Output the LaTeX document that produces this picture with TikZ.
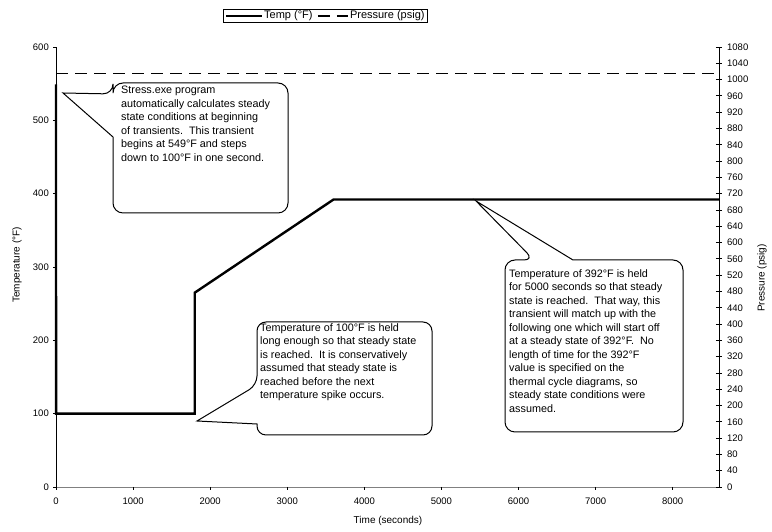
\documentclass[tikz,border=0pt]{standalone}
\usepackage{fontspec}
\setmainfont{Liberation Sans}
\usetikzlibrary{positioning,fit}

\begin{document}
\begin{tikzpicture}[x=1pt, y=1pt]
    \tikzset{
        axisline/.style={black, line width=0.8pt},
        templine/.style={black, line width=2.4pt},
        pressline/.style={black, line width=1.3pt, dash pattern=on 12pt off 7pt},
        ticktext/.style={font=\fontsize{9.5}{10}\selectfont, inner sep=0pt},
        titletext/.style={font=\fontsize{10}{11}\selectfont, inner sep=0pt},
        legendtext/.style={font=\fontsize{11}{12}\selectfont, inner sep=0pt},
        calloutbox/.style={draw=black, line width=1pt, fill=white},
        callouttext/.style={font=\fontsize{10.8}{13.5}\selectfont, align=left, anchor=north west, inner sep=0pt}
    }
    \useasboundingbox (0,0) rectangle (772,532);

    % --- 1. AXES ---
    \begin{scope}[shift={(56,45)}, x=0.07709pt, y=0.73333pt]
        \draw[axisline, gray] (0,0) -- (8600,0);
        \draw[axisline] (0,0) -- (0,600);
        \draw[axisline] (8600,0) -- (8600,600);

        % Temperature (gauche)
        \foreach \t in {0,100,...,600} {
            \draw[axisline] (0,\t) -- ++(-3pt,0pt);
            \node[ticktext, anchor=east] at ([xshift=-7pt]0,\t) {\t};
        }
        % Pressure (droite)
        \foreach \p in {0,40,...,1080} {
            \draw[axisline] ([xshift=-3pt]8600,{\p*5/9}) -- ++(6pt,0pt);
            \node[ticktext, anchor=west] at ([xshift=8pt]8600,{\p*5/9}) {\p};
        }
        % Time
        \foreach \s in {0,1000,...,8000} {
            \draw[axisline] (\s,0) -- ++(0pt,-3pt);
            \node[ticktext, anchor=north] at ([yshift=-11pt]\s,0) {\s};
        }

        % --- 2. DATA ---
        \draw[pressline] (0,{1015*5/9}) -- (8600,{1015*5/9});
        \draw[templine] (0,549) -- (1,100) -- (1800,100) -- (1800,265) -- (3600,392) -- (8600,392);
    \end{scope}

    \node[titletext, rotate=90] (ytitle) at (17,267) {Temperature (°F)};
    \node[titletext, rotate=90] (y2title) at (762,254) {Pressure (psig)};
    \node[titletext] (xtitle) at (388,11) {Time (seconds)};

    % --- 3. CALLOUTS ---
    \draw[calloutbox] (113,395) [rounded corners=10pt] -- (113,319) -- (288,319) -- (288,449) -- (113,449) -- (113,438) [sharp corners] -- (63,439) -- cycle;
    \node[callouttext] (note1) at (121,446) {Stress.exe program\\automatically calculates steady\\state conditions at beginning\\of transients.\ \ This transient\\begins at 549°F and steps\\down to 100°F in one second.};

    \draw[calloutbox] (257,108) [rounded corners=9pt] -- (257,97) -- (432,97) -- (432,210) -- (257,210) -- (257,147) [sharp corners] -- (197,111) -- cycle;
    \node[callouttext] (note2) at (260,209) {Temperature of 100°F is held\\long enough so that steady state\\is reached.\ \ It is conservatively\\assumed that steady state is\\reached before the next\\temperature spike occurs.};

    \draw[calloutbox] (573,272) [rounded corners=10pt] -- (683,272) -- (683,100) -- (505,100) -- (505,272) -- (534,272) [sharp corners] -- (476,331) -- cycle;
    \node[callouttext] (note3) at (509,263) {Temperature of 392°F is held\\for 5000 seconds so that steady\\state is reached.\ \ That way, this\\transient will match up with the\\following one which will start off\\at a steady state of 392°F.\ \ No\\length of time for the 392°F\\value is specified on the\\thermal cycle diagrams, so\\steady state conditions were\\assumed.};

    % --- 4. LEGENDE ---
    \coordinate (lg0) at (226,516);
    \coordinate (lg1) at (262,516);
    \draw[templine, line width=2pt] (lg0) -- (lg1);
    \node[legendtext, anchor=west] (legtemp) at ([xshift=2pt]lg1) {Temp (°F)};
    \coordinate[right=5pt of legtemp] (lg2);
    \coordinate[right=30pt of lg2] (lg3);
    \draw[pressline] (lg2) -- (lg3);
    \node[legendtext, right=2pt of lg3] (legpress) {Pressure (psig)};
    \node[draw, line width=0.8pt, fit=(lg0)(legtemp)(legpress), inner xsep=2.5pt, inner ysep=1pt] (legbox) {};

\end{tikzpicture}
\end{document}
